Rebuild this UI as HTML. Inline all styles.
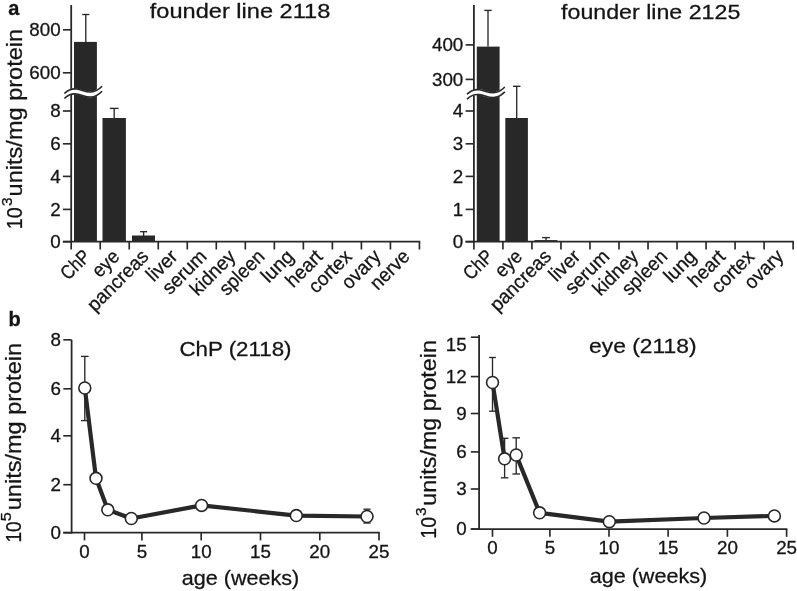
<!DOCTYPE html>
<html lang="en">
<head>
<meta charset="utf-8">
<title>Figure</title>
<style>
html,body{margin:0;padding:0;background:#fff;}
svg{display:block;}
text{font-family:"Liberation Sans", Arial, sans-serif;fill:#141414;stroke:#141414;stroke-width:0.28px;}
</style>
</head>
<body>
<svg width="797" height="591" viewBox="0 0 797 591">
<rect x="0" y="0" width="797" height="591" fill="#fff"/>
<rect x="74.00" y="41.90" width="22.90" height="199.80" fill="#282828"/>
<rect x="102.50" y="118.00" width="23.40" height="123.70" fill="#282828"/>
<rect x="132.00" y="235.50" width="23.00" height="6.20" fill="#282828"/>
<line x1="85.80" y1="14.50" x2="85.80" y2="42.00" stroke="#282828" stroke-width="1.35" stroke-linecap="butt"/>
<line x1="82.20" y1="14.50" x2="89.40" y2="14.50" stroke="#282828" stroke-width="1.35" stroke-linecap="butt"/>
<line x1="114.20" y1="108.40" x2="114.20" y2="118.00" stroke="#282828" stroke-width="1.35" stroke-linecap="butt"/>
<line x1="109.80" y1="108.40" x2="118.60" y2="108.40" stroke="#282828" stroke-width="1.35" stroke-linecap="butt"/>
<line x1="143.60" y1="231.70" x2="143.60" y2="236.00" stroke="#282828" stroke-width="1.35" stroke-linecap="butt"/>
<line x1="140.10" y1="231.70" x2="147.10" y2="231.70" stroke="#282828" stroke-width="1.35" stroke-linecap="butt"/>
<line x1="71.20" y1="5.00" x2="71.20" y2="242.60" stroke="#282828" stroke-width="1.8" stroke-linecap="butt"/>
<line x1="62.90" y1="241.70" x2="420.24" y2="241.70" stroke="#282828" stroke-width="1.8" stroke-linecap="butt"/>
<line x1="71.20" y1="241.70" x2="71.20" y2="249.50" stroke="#282828" stroke-width="1.65" stroke-linecap="butt"/>
<line x1="100.22" y1="241.70" x2="100.22" y2="249.50" stroke="#282828" stroke-width="1.65" stroke-linecap="butt"/>
<line x1="129.24" y1="241.70" x2="129.24" y2="249.50" stroke="#282828" stroke-width="1.65" stroke-linecap="butt"/>
<line x1="158.26" y1="241.70" x2="158.26" y2="249.50" stroke="#282828" stroke-width="1.65" stroke-linecap="butt"/>
<line x1="187.28" y1="241.70" x2="187.28" y2="249.50" stroke="#282828" stroke-width="1.65" stroke-linecap="butt"/>
<line x1="216.30" y1="241.70" x2="216.30" y2="249.50" stroke="#282828" stroke-width="1.65" stroke-linecap="butt"/>
<line x1="245.32" y1="241.70" x2="245.32" y2="249.50" stroke="#282828" stroke-width="1.65" stroke-linecap="butt"/>
<line x1="274.34" y1="241.70" x2="274.34" y2="249.50" stroke="#282828" stroke-width="1.65" stroke-linecap="butt"/>
<line x1="303.36" y1="241.70" x2="303.36" y2="249.50" stroke="#282828" stroke-width="1.65" stroke-linecap="butt"/>
<line x1="332.38" y1="241.70" x2="332.38" y2="249.50" stroke="#282828" stroke-width="1.65" stroke-linecap="butt"/>
<line x1="361.40" y1="241.70" x2="361.40" y2="249.50" stroke="#282828" stroke-width="1.65" stroke-linecap="butt"/>
<line x1="390.42" y1="241.70" x2="390.42" y2="249.50" stroke="#282828" stroke-width="1.65" stroke-linecap="butt"/>
<line x1="419.44" y1="241.70" x2="419.44" y2="249.50" stroke="#282828" stroke-width="1.65" stroke-linecap="butt"/>
<line x1="62.90" y1="29.80" x2="71.20" y2="29.80" stroke="#282828" stroke-width="1.65" stroke-linecap="butt"/>
<text x="60.60" y="36.10" font-size="17.7" text-anchor="end" font-weight="normal" textLength="31.35" lengthAdjust="spacingAndGlyphs">800</text>
<line x1="62.90" y1="72.80" x2="71.20" y2="72.80" stroke="#282828" stroke-width="1.65" stroke-linecap="butt"/>
<text x="60.60" y="79.10" font-size="17.7" text-anchor="end" font-weight="normal" textLength="31.35" lengthAdjust="spacingAndGlyphs">600</text>
<line x1="62.90" y1="111.00" x2="71.20" y2="111.00" stroke="#282828" stroke-width="1.65" stroke-linecap="butt"/>
<text x="60.60" y="117.30" font-size="17.7" text-anchor="end" font-weight="normal" textLength="10.45" lengthAdjust="spacingAndGlyphs">8</text>
<line x1="62.90" y1="143.80" x2="71.20" y2="143.80" stroke="#282828" stroke-width="1.65" stroke-linecap="butt"/>
<text x="60.60" y="150.10" font-size="17.7" text-anchor="end" font-weight="normal" textLength="10.45" lengthAdjust="spacingAndGlyphs">6</text>
<line x1="62.90" y1="176.40" x2="71.20" y2="176.40" stroke="#282828" stroke-width="1.65" stroke-linecap="butt"/>
<text x="60.60" y="182.70" font-size="17.7" text-anchor="end" font-weight="normal" textLength="10.45" lengthAdjust="spacingAndGlyphs">4</text>
<line x1="62.90" y1="209.40" x2="71.20" y2="209.40" stroke="#282828" stroke-width="1.65" stroke-linecap="butt"/>
<text x="60.60" y="215.70" font-size="17.7" text-anchor="end" font-weight="normal" textLength="10.45" lengthAdjust="spacingAndGlyphs">2</text>
<line x1="62.90" y1="241.70" x2="71.20" y2="241.70" stroke="#282828" stroke-width="1.65" stroke-linecap="butt"/>
<text x="60.60" y="248.00" font-size="17.7" text-anchor="end" font-weight="normal" textLength="10.45" lengthAdjust="spacingAndGlyphs">0</text>
<path d="M64.3 96.0 C67.7 92.8,71.7 90.8,76.7 91.5 S85.7 94.8,90.7 94.5 S98.2 92.8,102.1 88.8" stroke="#fff" stroke-width="5.8" fill="none"/>
<path d="M64.3 93.5 C67.7 90.3,71.7 88.3,76.7 89.0 S85.7 92.3,90.7 92.0 S98.2 90.3,102.1 86.3" stroke="#282828" stroke-width="1.6" fill="none"/>
<path d="M64.3 98.5 C67.7 95.2,71.7 93.2,76.7 94.0 S85.7 97.2,90.7 97.0 S98.2 95.2,102.1 91.2" stroke="#282828" stroke-width="1.6" fill="none"/>
<text x="91.71" y="257.70" font-size="19.6" text-anchor="end" font-weight="normal" transform="rotate(-45 91.71 257.70)" textLength="33.00" lengthAdjust="spacingAndGlyphs">ChP</text>
<text x="120.73" y="257.70" font-size="19.6" text-anchor="end" font-weight="normal" transform="rotate(-45 120.73 257.70)" textLength="29.60" lengthAdjust="spacingAndGlyphs">eye</text>
<text x="149.75" y="257.70" font-size="19.6" text-anchor="end" font-weight="normal" transform="rotate(-45 149.75 257.70)" textLength="77.50" lengthAdjust="spacingAndGlyphs">pancreas</text>
<text x="178.77" y="257.70" font-size="19.6" text-anchor="end" font-weight="normal" transform="rotate(-45 178.77 257.70)" textLength="35.20" lengthAdjust="spacingAndGlyphs">liver</text>
<text x="207.79" y="257.70" font-size="19.6" text-anchor="end" font-weight="normal" transform="rotate(-45 207.79 257.70)" textLength="53.50" lengthAdjust="spacingAndGlyphs">serum</text>
<text x="236.81" y="257.70" font-size="19.6" text-anchor="end" font-weight="normal" transform="rotate(-45 236.81 257.70)" textLength="55.20" lengthAdjust="spacingAndGlyphs">kidney</text>
<text x="265.83" y="257.70" font-size="19.6" text-anchor="end" font-weight="normal" transform="rotate(-45 265.83 257.70)" textLength="55.00" lengthAdjust="spacingAndGlyphs">spleen</text>
<text x="294.85" y="257.70" font-size="19.6" text-anchor="end" font-weight="normal" transform="rotate(-45 294.85 257.70)" textLength="37.00" lengthAdjust="spacingAndGlyphs">lung</text>
<text x="323.87" y="257.70" font-size="19.6" text-anchor="end" font-weight="normal" transform="rotate(-45 323.87 257.70)" textLength="43.40" lengthAdjust="spacingAndGlyphs">heart</text>
<text x="352.89" y="257.70" font-size="19.6" text-anchor="end" font-weight="normal" transform="rotate(-45 352.89 257.70)" textLength="51.80" lengthAdjust="spacingAndGlyphs">cortex</text>
<text x="381.91" y="257.70" font-size="19.6" text-anchor="end" font-weight="normal" transform="rotate(-45 381.91 257.70)" textLength="46.00" lengthAdjust="spacingAndGlyphs">ovary</text>
<text x="410.93" y="257.70" font-size="19.6" text-anchor="end" font-weight="normal" transform="rotate(-45 410.93 257.70)" textLength="47.00" lengthAdjust="spacingAndGlyphs">nerve</text>
<text x="149.80" y="17.60" font-size="21.0" text-anchor="start" font-weight="normal" textLength="180.50" lengthAdjust="spacingAndGlyphs">founder line 2118</text>
<rect x="476.80" y="46.60" width="22.80" height="195.10" fill="#282828"/>
<rect x="505.30" y="118.00" width="22.60" height="123.70" fill="#282828"/>
<rect x="534.50" y="240.10" width="22.90" height="1.60" fill="#282828"/>
<line x1="488.00" y1="10.40" x2="488.00" y2="46.60" stroke="#282828" stroke-width="1.35" stroke-linecap="butt"/>
<line x1="484.30" y1="10.40" x2="491.70" y2="10.40" stroke="#282828" stroke-width="1.35" stroke-linecap="butt"/>
<line x1="516.70" y1="86.30" x2="516.70" y2="118.00" stroke="#282828" stroke-width="1.35" stroke-linecap="butt"/>
<line x1="512.95" y1="86.30" x2="520.45" y2="86.30" stroke="#282828" stroke-width="1.35" stroke-linecap="butt"/>
<line x1="546.00" y1="237.60" x2="546.00" y2="240.50" stroke="#282828" stroke-width="1.35" stroke-linecap="butt"/>
<line x1="542.15" y1="237.60" x2="549.85" y2="237.60" stroke="#282828" stroke-width="1.35" stroke-linecap="butt"/>
<line x1="473.90" y1="5.00" x2="473.90" y2="242.60" stroke="#282828" stroke-width="1.8" stroke-linecap="butt"/>
<line x1="465.60" y1="241.70" x2="793.92" y2="241.70" stroke="#282828" stroke-width="1.8" stroke-linecap="butt"/>
<line x1="473.90" y1="241.70" x2="473.90" y2="249.50" stroke="#282828" stroke-width="1.65" stroke-linecap="butt"/>
<line x1="502.92" y1="241.70" x2="502.92" y2="249.50" stroke="#282828" stroke-width="1.65" stroke-linecap="butt"/>
<line x1="531.94" y1="241.70" x2="531.94" y2="249.50" stroke="#282828" stroke-width="1.65" stroke-linecap="butt"/>
<line x1="560.96" y1="241.70" x2="560.96" y2="249.50" stroke="#282828" stroke-width="1.65" stroke-linecap="butt"/>
<line x1="589.98" y1="241.70" x2="589.98" y2="249.50" stroke="#282828" stroke-width="1.65" stroke-linecap="butt"/>
<line x1="619.00" y1="241.70" x2="619.00" y2="249.50" stroke="#282828" stroke-width="1.65" stroke-linecap="butt"/>
<line x1="648.02" y1="241.70" x2="648.02" y2="249.50" stroke="#282828" stroke-width="1.65" stroke-linecap="butt"/>
<line x1="677.04" y1="241.70" x2="677.04" y2="249.50" stroke="#282828" stroke-width="1.65" stroke-linecap="butt"/>
<line x1="706.06" y1="241.70" x2="706.06" y2="249.50" stroke="#282828" stroke-width="1.65" stroke-linecap="butt"/>
<line x1="735.08" y1="241.70" x2="735.08" y2="249.50" stroke="#282828" stroke-width="1.65" stroke-linecap="butt"/>
<line x1="764.10" y1="241.70" x2="764.10" y2="249.50" stroke="#282828" stroke-width="1.65" stroke-linecap="butt"/>
<line x1="793.12" y1="241.70" x2="793.12" y2="249.50" stroke="#282828" stroke-width="1.65" stroke-linecap="butt"/>
<line x1="465.60" y1="44.90" x2="473.90" y2="44.90" stroke="#282828" stroke-width="1.65" stroke-linecap="butt"/>
<text x="463.30" y="51.20" font-size="17.7" text-anchor="end" font-weight="normal" textLength="31.35" lengthAdjust="spacingAndGlyphs">400</text>
<line x1="465.60" y1="79.40" x2="473.90" y2="79.40" stroke="#282828" stroke-width="1.65" stroke-linecap="butt"/>
<text x="463.30" y="85.70" font-size="17.7" text-anchor="end" font-weight="normal" textLength="31.35" lengthAdjust="spacingAndGlyphs">300</text>
<line x1="465.60" y1="111.00" x2="473.90" y2="111.00" stroke="#282828" stroke-width="1.65" stroke-linecap="butt"/>
<text x="463.30" y="117.30" font-size="17.7" text-anchor="end" font-weight="normal" textLength="10.45" lengthAdjust="spacingAndGlyphs">4</text>
<line x1="465.60" y1="143.80" x2="473.90" y2="143.80" stroke="#282828" stroke-width="1.65" stroke-linecap="butt"/>
<text x="463.30" y="150.10" font-size="17.7" text-anchor="end" font-weight="normal" textLength="10.45" lengthAdjust="spacingAndGlyphs">3</text>
<line x1="465.60" y1="176.40" x2="473.90" y2="176.40" stroke="#282828" stroke-width="1.65" stroke-linecap="butt"/>
<text x="463.30" y="182.70" font-size="17.7" text-anchor="end" font-weight="normal" textLength="10.45" lengthAdjust="spacingAndGlyphs">2</text>
<line x1="465.60" y1="209.40" x2="473.90" y2="209.40" stroke="#282828" stroke-width="1.65" stroke-linecap="butt"/>
<text x="463.30" y="215.70" font-size="17.7" text-anchor="end" font-weight="normal" textLength="10.45" lengthAdjust="spacingAndGlyphs">1</text>
<line x1="465.60" y1="241.70" x2="473.90" y2="241.70" stroke="#282828" stroke-width="1.65" stroke-linecap="butt"/>
<text x="463.30" y="248.00" font-size="17.7" text-anchor="end" font-weight="normal" textLength="10.45" lengthAdjust="spacingAndGlyphs">0</text>
<path d="M467.0 96.7 C470.4 93.5,474.4 91.5,479.4 92.2 S488.4 95.5,493.4 95.2 S500.9 93.5,504.8 89.5" stroke="#fff" stroke-width="5.8" fill="none"/>
<path d="M467.0 94.2 C470.4 91.0,474.4 89.0,479.4 89.8 S488.4 93.0,493.4 92.8 S500.9 91.0,504.8 87.0" stroke="#282828" stroke-width="1.6" fill="none"/>
<path d="M467.0 99.1 C470.4 95.9,474.4 93.9,479.4 94.6 S488.4 97.9,493.4 97.6 S500.9 95.9,504.8 91.9" stroke="#282828" stroke-width="1.6" fill="none"/>
<text x="494.41" y="257.70" font-size="19.6" text-anchor="end" font-weight="normal" transform="rotate(-45 494.41 257.70)" textLength="33.00" lengthAdjust="spacingAndGlyphs">ChP</text>
<text x="523.43" y="257.70" font-size="19.6" text-anchor="end" font-weight="normal" transform="rotate(-45 523.43 257.70)" textLength="29.60" lengthAdjust="spacingAndGlyphs">eye</text>
<text x="552.45" y="257.70" font-size="19.6" text-anchor="end" font-weight="normal" transform="rotate(-45 552.45 257.70)" textLength="77.50" lengthAdjust="spacingAndGlyphs">pancreas</text>
<text x="581.47" y="257.70" font-size="19.6" text-anchor="end" font-weight="normal" transform="rotate(-45 581.47 257.70)" textLength="35.20" lengthAdjust="spacingAndGlyphs">liver</text>
<text x="610.49" y="257.70" font-size="19.6" text-anchor="end" font-weight="normal" transform="rotate(-45 610.49 257.70)" textLength="53.50" lengthAdjust="spacingAndGlyphs">serum</text>
<text x="639.51" y="257.70" font-size="19.6" text-anchor="end" font-weight="normal" transform="rotate(-45 639.51 257.70)" textLength="55.20" lengthAdjust="spacingAndGlyphs">kidney</text>
<text x="668.53" y="257.70" font-size="19.6" text-anchor="end" font-weight="normal" transform="rotate(-45 668.53 257.70)" textLength="55.00" lengthAdjust="spacingAndGlyphs">spleen</text>
<text x="697.55" y="257.70" font-size="19.6" text-anchor="end" font-weight="normal" transform="rotate(-45 697.55 257.70)" textLength="37.00" lengthAdjust="spacingAndGlyphs">lung</text>
<text x="726.57" y="257.70" font-size="19.6" text-anchor="end" font-weight="normal" transform="rotate(-45 726.57 257.70)" textLength="43.40" lengthAdjust="spacingAndGlyphs">heart</text>
<text x="755.59" y="257.70" font-size="19.6" text-anchor="end" font-weight="normal" transform="rotate(-45 755.59 257.70)" textLength="51.80" lengthAdjust="spacingAndGlyphs">cortex</text>
<text x="784.61" y="257.70" font-size="19.6" text-anchor="end" font-weight="normal" transform="rotate(-45 784.61 257.70)" textLength="46.00" lengthAdjust="spacingAndGlyphs">ovary</text>
<text x="561.10" y="18.80" font-size="21.0" text-anchor="start" font-weight="normal" textLength="179.20" lengthAdjust="spacingAndGlyphs">founder line 2125</text>
<text x="22.00" y="229.30" font-size="21.6" transform="rotate(-90 22.00 229.30)" textLength="21.90" lengthAdjust="spacingAndGlyphs">10</text>
<text x="11.80" y="206.00" font-size="14" transform="rotate(-90 11.80 206.00)" textLength="8.50" lengthAdjust="spacingAndGlyphs">3</text>
<text x="22.00" y="196.40" font-size="21.6" transform="rotate(-90 22.00 196.40)" textLength="167.60" lengthAdjust="spacingAndGlyphs">units/mg protein</text>
<text x="8.20" y="14.70" font-size="20.0" text-anchor="start" font-weight="bold">a</text>
<text x="8.60" y="326.20" font-size="20.0" text-anchor="start" font-weight="bold">b</text>
<line x1="84.80" y1="356.40" x2="84.80" y2="420.60" stroke="#282828" stroke-width="1.35" stroke-linecap="butt"/>
<line x1="81.00" y1="356.40" x2="88.60" y2="356.40" stroke="#282828" stroke-width="1.35" stroke-linecap="butt"/>
<line x1="81.00" y1="420.60" x2="88.60" y2="420.60" stroke="#282828" stroke-width="1.35" stroke-linecap="butt"/>
<line x1="367.00" y1="509.20" x2="367.00" y2="523.00" stroke="#282828" stroke-width="1.35" stroke-linecap="butt"/>
<line x1="363.40" y1="509.20" x2="370.60" y2="509.20" stroke="#282828" stroke-width="1.35" stroke-linecap="butt"/>
<line x1="363.40" y1="523.00" x2="370.60" y2="523.00" stroke="#282828" stroke-width="1.35" stroke-linecap="butt"/>
<line x1="71.60" y1="339.80" x2="71.60" y2="533.60" stroke="#282828" stroke-width="1.8" stroke-linecap="butt"/>
<line x1="63.30" y1="532.70" x2="379.80" y2="532.70" stroke="#282828" stroke-width="1.8" stroke-linecap="butt"/>
<line x1="84.50" y1="532.70" x2="84.50" y2="540.40" stroke="#282828" stroke-width="1.65" stroke-linecap="butt"/>
<text x="84.50" y="558.00" font-size="17.7" text-anchor="middle" font-weight="normal" textLength="10.45" lengthAdjust="spacingAndGlyphs">0</text>
<line x1="141.90" y1="532.70" x2="141.90" y2="540.40" stroke="#282828" stroke-width="1.65" stroke-linecap="butt"/>
<text x="141.90" y="558.00" font-size="17.7" text-anchor="middle" font-weight="normal" textLength="10.45" lengthAdjust="spacingAndGlyphs">5</text>
<line x1="201.20" y1="532.70" x2="201.20" y2="540.40" stroke="#282828" stroke-width="1.65" stroke-linecap="butt"/>
<text x="201.20" y="558.00" font-size="17.7" text-anchor="middle" font-weight="normal" textLength="20.90" lengthAdjust="spacingAndGlyphs">10</text>
<line x1="260.50" y1="532.70" x2="260.50" y2="540.40" stroke="#282828" stroke-width="1.65" stroke-linecap="butt"/>
<text x="260.50" y="558.00" font-size="17.7" text-anchor="middle" font-weight="normal" textLength="20.90" lengthAdjust="spacingAndGlyphs">15</text>
<line x1="319.80" y1="532.70" x2="319.80" y2="540.40" stroke="#282828" stroke-width="1.65" stroke-linecap="butt"/>
<text x="319.80" y="558.00" font-size="17.7" text-anchor="middle" font-weight="normal" textLength="20.90" lengthAdjust="spacingAndGlyphs">20</text>
<line x1="379.00" y1="532.70" x2="379.00" y2="540.40" stroke="#282828" stroke-width="1.65" stroke-linecap="butt"/>
<text x="379.00" y="558.00" font-size="17.7" text-anchor="middle" font-weight="normal" textLength="20.90" lengthAdjust="spacingAndGlyphs">25</text>
<line x1="63.30" y1="339.80" x2="71.60" y2="339.80" stroke="#282828" stroke-width="1.65" stroke-linecap="butt"/>
<text x="61.00" y="346.10" font-size="17.7" text-anchor="end" font-weight="normal" textLength="10.45" lengthAdjust="spacingAndGlyphs">8</text>
<line x1="63.30" y1="388.80" x2="71.60" y2="388.80" stroke="#282828" stroke-width="1.65" stroke-linecap="butt"/>
<text x="61.00" y="395.10" font-size="17.7" text-anchor="end" font-weight="normal" textLength="10.45" lengthAdjust="spacingAndGlyphs">6</text>
<line x1="63.30" y1="435.80" x2="71.60" y2="435.80" stroke="#282828" stroke-width="1.65" stroke-linecap="butt"/>
<text x="61.00" y="442.10" font-size="17.7" text-anchor="end" font-weight="normal" textLength="10.45" lengthAdjust="spacingAndGlyphs">4</text>
<line x1="63.30" y1="484.70" x2="71.60" y2="484.70" stroke="#282828" stroke-width="1.65" stroke-linecap="butt"/>
<text x="61.00" y="491.00" font-size="17.7" text-anchor="end" font-weight="normal" textLength="10.45" lengthAdjust="spacingAndGlyphs">2</text>
<line x1="63.30" y1="532.70" x2="71.60" y2="532.70" stroke="#282828" stroke-width="1.65" stroke-linecap="butt"/>
<text x="61.00" y="539.00" font-size="17.7" text-anchor="end" font-weight="normal" textLength="10.45" lengthAdjust="spacingAndGlyphs">0</text>
<path d="M84.8 388.0 L96.0 478.3 L107.8 509.8 L131.3 518.5 L201.6 505.4 L296.3 515.6 L367.0 516.5" stroke="#282828" stroke-width="4.2" fill="none" stroke-linejoin="round"/>
<circle cx="84.8" cy="388.0" r="5.95" fill="#fff" stroke="#282828" stroke-width="1.6"/>
<circle cx="96.0" cy="478.3" r="5.95" fill="#fff" stroke="#282828" stroke-width="1.6"/>
<circle cx="107.8" cy="509.8" r="5.95" fill="#fff" stroke="#282828" stroke-width="1.6"/>
<circle cx="131.3" cy="518.5" r="5.95" fill="#fff" stroke="#282828" stroke-width="1.6"/>
<circle cx="201.6" cy="505.4" r="5.95" fill="#fff" stroke="#282828" stroke-width="1.6"/>
<circle cx="296.3" cy="515.6" r="5.95" fill="#fff" stroke="#282828" stroke-width="1.6"/>
<circle cx="367.0" cy="516.5" r="5.95" fill="#fff" stroke="#282828" stroke-width="1.6"/>
<text x="179.50" y="356.30" font-size="21.0" text-anchor="start" font-weight="normal" textLength="112.00" lengthAdjust="spacingAndGlyphs">ChP (2118)</text>
<text x="181.80" y="584.90" font-size="21.0" text-anchor="start" font-weight="normal" textLength="117.40" lengthAdjust="spacingAndGlyphs">age (weeks)</text>
<text x="21.50" y="542.60" font-size="21.6" transform="rotate(-90 21.50 542.60)" textLength="21.20" lengthAdjust="spacingAndGlyphs">10</text>
<text x="11.10" y="521.20" font-size="14" transform="rotate(-90 11.10 521.20)" textLength="9.00" lengthAdjust="spacingAndGlyphs">5</text>
<text x="21.50" y="510.20" font-size="21.6" transform="rotate(-90 21.50 510.20)" textLength="167.20" lengthAdjust="spacingAndGlyphs">units/mg protein</text>
<line x1="492.50" y1="357.50" x2="492.50" y2="411.20" stroke="#282828" stroke-width="1.35" stroke-linecap="butt"/>
<line x1="489.10" y1="357.50" x2="495.90" y2="357.50" stroke="#282828" stroke-width="1.35" stroke-linecap="butt"/>
<line x1="489.10" y1="411.20" x2="495.90" y2="411.20" stroke="#282828" stroke-width="1.35" stroke-linecap="butt"/>
<line x1="504.60" y1="438.30" x2="504.60" y2="477.80" stroke="#282828" stroke-width="1.35" stroke-linecap="butt"/>
<line x1="500.80" y1="438.30" x2="508.40" y2="438.30" stroke="#282828" stroke-width="1.35" stroke-linecap="butt"/>
<line x1="500.80" y1="477.80" x2="508.40" y2="477.80" stroke="#282828" stroke-width="1.35" stroke-linecap="butt"/>
<line x1="516.20" y1="437.80" x2="516.20" y2="474.00" stroke="#282828" stroke-width="1.35" stroke-linecap="butt"/>
<line x1="512.40" y1="437.80" x2="520.00" y2="437.80" stroke="#282828" stroke-width="1.35" stroke-linecap="butt"/>
<line x1="512.40" y1="474.00" x2="520.00" y2="474.00" stroke="#282828" stroke-width="1.35" stroke-linecap="butt"/>
<line x1="479.10" y1="334.90" x2="479.10" y2="530.00" stroke="#282828" stroke-width="1.8" stroke-linecap="butt"/>
<line x1="470.80" y1="529.10" x2="787.40" y2="529.10" stroke="#282828" stroke-width="1.8" stroke-linecap="butt"/>
<line x1="492.50" y1="529.10" x2="492.50" y2="536.80" stroke="#282828" stroke-width="1.65" stroke-linecap="butt"/>
<text x="492.50" y="554.00" font-size="17.7" text-anchor="middle" font-weight="normal" textLength="10.45" lengthAdjust="spacingAndGlyphs">0</text>
<line x1="549.90" y1="529.10" x2="549.90" y2="536.80" stroke="#282828" stroke-width="1.65" stroke-linecap="butt"/>
<text x="549.90" y="554.00" font-size="17.7" text-anchor="middle" font-weight="normal" textLength="10.45" lengthAdjust="spacingAndGlyphs">5</text>
<line x1="609.00" y1="529.10" x2="609.00" y2="536.80" stroke="#282828" stroke-width="1.65" stroke-linecap="butt"/>
<text x="609.00" y="554.00" font-size="17.7" text-anchor="middle" font-weight="normal" textLength="20.90" lengthAdjust="spacingAndGlyphs">10</text>
<line x1="668.10" y1="529.10" x2="668.10" y2="536.80" stroke="#282828" stroke-width="1.65" stroke-linecap="butt"/>
<text x="668.10" y="554.00" font-size="17.7" text-anchor="middle" font-weight="normal" textLength="20.90" lengthAdjust="spacingAndGlyphs">15</text>
<line x1="727.40" y1="529.10" x2="727.40" y2="536.80" stroke="#282828" stroke-width="1.65" stroke-linecap="butt"/>
<text x="727.40" y="554.00" font-size="17.7" text-anchor="middle" font-weight="normal" textLength="20.90" lengthAdjust="spacingAndGlyphs">20</text>
<line x1="786.60" y1="529.10" x2="786.60" y2="536.80" stroke="#282828" stroke-width="1.65" stroke-linecap="butt"/>
<text x="786.60" y="554.00" font-size="17.7" text-anchor="middle" font-weight="normal" textLength="20.90" lengthAdjust="spacingAndGlyphs">25</text>
<line x1="470.80" y1="337.20" x2="479.10" y2="337.20" stroke="#282828" stroke-width="1.65" stroke-linecap="butt"/>
<text x="466.70" y="350.80" font-size="17.7" text-anchor="end" font-weight="normal" textLength="20.90" lengthAdjust="spacingAndGlyphs">15</text>
<line x1="470.80" y1="376.60" x2="479.10" y2="376.60" stroke="#282828" stroke-width="1.65" stroke-linecap="butt"/>
<text x="466.70" y="382.90" font-size="17.7" text-anchor="end" font-weight="normal" textLength="20.90" lengthAdjust="spacingAndGlyphs">12</text>
<line x1="470.80" y1="413.50" x2="479.10" y2="413.50" stroke="#282828" stroke-width="1.65" stroke-linecap="butt"/>
<text x="466.70" y="419.80" font-size="17.7" text-anchor="end" font-weight="normal" textLength="10.45" lengthAdjust="spacingAndGlyphs">9</text>
<line x1="470.80" y1="451.90" x2="479.10" y2="451.90" stroke="#282828" stroke-width="1.65" stroke-linecap="butt"/>
<text x="466.70" y="458.20" font-size="17.7" text-anchor="end" font-weight="normal" textLength="10.45" lengthAdjust="spacingAndGlyphs">6</text>
<line x1="470.80" y1="489.00" x2="479.10" y2="489.00" stroke="#282828" stroke-width="1.65" stroke-linecap="butt"/>
<text x="466.70" y="495.30" font-size="17.7" text-anchor="end" font-weight="normal" textLength="10.45" lengthAdjust="spacingAndGlyphs">3</text>
<line x1="470.80" y1="529.10" x2="479.10" y2="529.10" stroke="#282828" stroke-width="1.65" stroke-linecap="butt"/>
<text x="466.70" y="535.40" font-size="17.7" text-anchor="end" font-weight="normal" textLength="10.45" lengthAdjust="spacingAndGlyphs">0</text>
<path d="M492.5 382.5 L504.6 458.8 L516.2 455.0 L539.6 512.8 L609.3 521.7 L704.0 518.0 L774.4 515.9" stroke="#282828" stroke-width="4.2" fill="none" stroke-linejoin="round"/>
<circle cx="492.5" cy="382.5" r="5.95" fill="#fff" stroke="#282828" stroke-width="1.6"/>
<circle cx="504.6" cy="458.8" r="5.95" fill="#fff" stroke="#282828" stroke-width="1.6"/>
<circle cx="516.2" cy="455.0" r="5.95" fill="#fff" stroke="#282828" stroke-width="1.6"/>
<circle cx="539.6" cy="512.8" r="5.95" fill="#fff" stroke="#282828" stroke-width="1.6"/>
<circle cx="609.3" cy="521.7" r="5.95" fill="#fff" stroke="#282828" stroke-width="1.6"/>
<circle cx="704.0" cy="518.0" r="5.95" fill="#fff" stroke="#282828" stroke-width="1.6"/>
<circle cx="774.4" cy="515.9" r="5.95" fill="#fff" stroke="#282828" stroke-width="1.6"/>
<text x="589.10" y="353.10" font-size="21.0" text-anchor="start" font-weight="normal" textLength="107.50" lengthAdjust="spacingAndGlyphs">eye (2118)</text>
<text x="589.70" y="583.10" font-size="21.0" text-anchor="start" font-weight="normal" textLength="117.50" lengthAdjust="spacingAndGlyphs">age (weeks)</text>
<text x="436.20" y="538.70" font-size="21.6" transform="rotate(-90 436.20 538.70)" textLength="21.70" lengthAdjust="spacingAndGlyphs">10</text>
<text x="425.90" y="516.00" font-size="14" transform="rotate(-90 425.90 516.00)" textLength="8.60" lengthAdjust="spacingAndGlyphs">3</text>
<text x="436.20" y="505.70" font-size="21.6" transform="rotate(-90 436.20 505.70)" textLength="165.60" lengthAdjust="spacingAndGlyphs">units/mg protein</text>
</svg>
</body>
</html>
